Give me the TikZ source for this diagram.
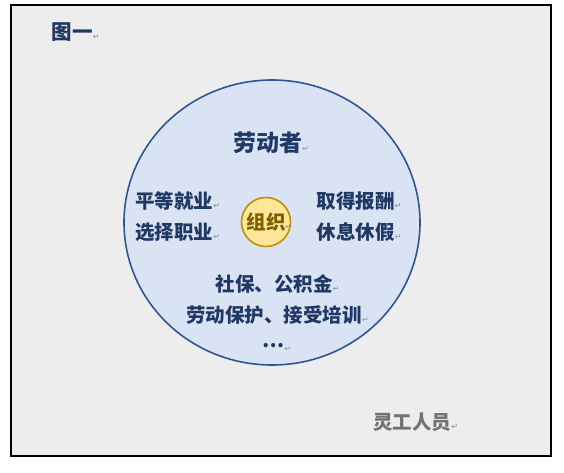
\documentclass[tikz,border=0pt]{standalone}
\usepackage{fontspec}
\newfontfamily\cjk{Noto Sans CJK SC}
\newfontfamily\dejavu{DejaVu Sans}
\usetikzlibrary{shapes.geometric}
\definecolor{ink}{HTML}{1F3864}
\definecolor{bgray}{HTML}{EDEDED}
\definecolor{wfill}{HTML}{DAE3F3}
\definecolor{wline}{HTML}{2F5597}
\definecolor{ofill}{HTML}{FFE699}
\definecolor{oline}{HTML}{BF9000}
\definecolor{otext}{HTML}{7F6000}
\definecolor{gtext}{HTML}{767171}
\definecolor{markgray}{HTML}{8C8C8C}
\tikzset{
	lbl/.style={font=\cjk\bfseries\fontsize{19.5}{19.5}\selectfont, text=ink, inner sep=0pt, anchor=base},
	retm/.style={font=\dejavu\fontsize{8}{8}\selectfont, text=markgray, inner sep=0pt, anchor=base west},
}
\begin{document}
\begin{tikzpicture}[x=1pt,y=-1pt]
			\useasboundingbox (0,0) rectangle (564,472);
			\draw [line width=2pt,fill=bgray] (11,5) rectangle (551,456);
			% workers circle and organisation in the middle
			\node [ellipse,draw=wline,line width=1.6pt,fill=wfill,minimum width=296pt,minimum height=285pt,inner sep=0pt] (worker) at (272,222.5) {};
			\node [circle,draw=oline,line width=1.6pt,fill=ofill,minimum size=49pt,inner sep=0pt,
				font=\cjk\bfseries\fontsize{19.5}{19.5}\selectfont,text=otext] (org) at (266,222) {组织};
			\node [retm] (orgm) at (285,229) {↵};
			
			\node [lbl,font=\cjk\bfseries\fontsize{20.5}{20.5}\selectfont] (title) at (72,39) {图一};
			\node [lbl,font=\cjk\bfseries\fontsize{23}{23}\selectfont] (who) at (267.5,151) {劳动者};
			\node [lbl] (equal) at (174,208.5) {平等就业};
			\node [lbl] (choose) at (174,239) {选择职业};
			\node [lbl] (pay) at (355.5,208) {取得报酬};
			\node [lbl] (rest) at (355.5,239) {休息休假};
			\node [lbl] (insur) at (274,291.5) {社保、公积金};
			\node [lbl] (protect) at (274,322.5) {劳动保护、接受培训};
			\node [lbl,anchor=center] (more) at (273,346) {…};
			\node [lbl,text=gtext] (flex) at (412,429) {灵工人员};
			
			\foreach \n in {title,who,equal,choose,pay,rest,insur,protect,flex}{
				\node [retm] at (\n.base east) {↵};
			}
			\node [retm,anchor=west] at ([yshift=-3pt]more.east) {↵};
\end{tikzpicture}
\end{document}
